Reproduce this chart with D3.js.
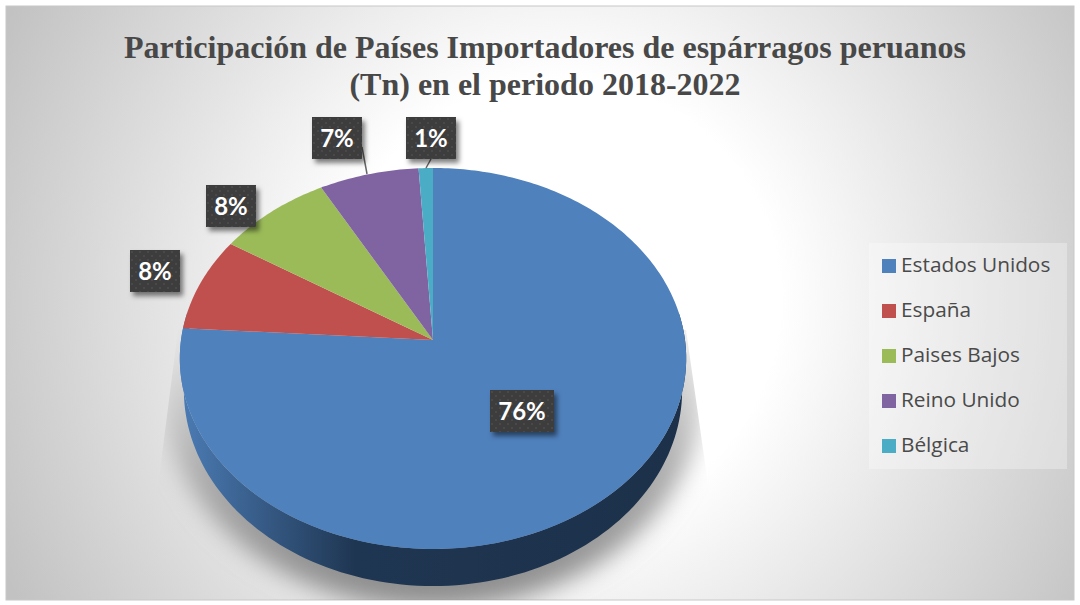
<!DOCTYPE html>
<html>
<head>
<meta charset="utf-8">
<script src="https://cdn.jsdelivr.net/npm/d3@7/dist/d3.min.js"></script>
<style>
html, body { margin: 0; padding: 0; background: #fff; }
svg { display: block; }
</style>
</head>
<body>
<svg id="chart" width="1080" height="605"></svg>
<script>
var titleLines = ["Participación de Países Importadores de espárragos peruanos", "(Tn) en el periodo 2018-2022"];
var categories = ["Estados Unidos", "España", "Paises Bajos", "Reino Unido", "Bélgica"];
var shares = [76, 8, 8, 7, 1];
var colors = ["#4f81bd", "#c0504d", "#9bbb59", "#8064a2", "#4bacc6"];

var svg = d3.select("#chart");
var defs = svg.append("defs");

var bg = defs.append("radialGradient").attr("id", "bg")
    .attr("gradientUnits", "userSpaceOnUse")
    .attr("cx", 560).attr("cy", 300).attr("r", 620);
bg.append("stop").attr("offset", "0.355").attr("stop-color", "#ffffff");
bg.append("stop").attr("offset", "1").attr("stop-color", "#c2c2c2");

var wall = defs.append("linearGradient").attr("id", "wall")
    .attr("gradientUnits", "userSpaceOnUse")
    .attr("x1", 185).attr("x2", 700).attr("y1", 0).attr("y2", 0);
wall.append("stop").attr("offset", "0").attr("stop-color", "#4a7ab2");
wall.append("stop").attr("offset", "0.33").attr("stop-color", "#1f3652");
wall.append("stop").attr("offset", "1").attr("stop-color", "#1c3049");

// floor shadow gets stronger further down
var floorFill = defs.append("linearGradient").attr("id", "floorFill")
    .attr("gradientUnits", "userSpaceOnUse")
    .attr("x1", 0).attr("x2", 0).attr("y1", 340).attr("y2", 590);
floorFill.append("stop").attr("offset", "0").attr("stop-color", "#e4e4e4");
floorFill.append("stop").attr("offset", "0.52").attr("stop-color", "#acacac");
floorFill.append("stop").attr("offset", "1").attr("stop-color", "#8c8c8c");

defs.append("filter").attr("id", "blur").attr("x", "-20%").attr("y", "-20%").attr("width", "140%").attr("height", "140%")
    .append("feGaussianBlur").attr("stdDeviation", 12);

// shadow has straight slanted sides and stops at the chart edge
defs.append("clipPath").attr("id", "floorClip").append("polygon")
    .attr("points", "178,330 686,330 706,470 720,600 146,600 160,470");

var labelShadow = defs.append("filter").attr("id", "labelShadow").attr("x", "-30%").attr("y", "-30%").attr("width", "170%").attr("height", "170%");
labelShadow.append("feDropShadow").attr("dx", 3).attr("dy", 4).attr("stdDeviation", 2.5)
    .attr("flood-color", "#000").attr("flood-opacity", 0.5);

var dots = defs.append("pattern").attr("id", "dots").attr("patternUnits", "userSpaceOnUse")
    .attr("width", 8).attr("height", 8);
dots.append("rect").attr("width", 8).attr("height", 8).attr("fill", "#3c3c3c");
dots.append("circle").attr("cx", 2).attr("cy", 2).attr("r", 0.8).attr("fill", "#565656");
dots.append("circle").attr("cx", 6).attr("cy", 6).attr("r", 0.8).attr("fill", "#565656");

svg.append("rect").attr("x", 6).attr("y", 6).attr("width", 1068).attr("height", 594)
    .attr("fill", "url(#bg)").attr("stroke", "#c8c8c8").attr("stroke-width", 1);

// pie seen in perspective: apex is not the middle of the ellipse
var apexX = 433, apexY = 340, radX = 252, radY = 188.7, tilt = 0.097;

function project(a, sx, sy, drop) {
    var d = 1 + tilt * Math.cos(a);
    return [apexX + sx * radX * Math.sin(a) / d, apexY + drop - sy * radY * Math.cos(a) / d];
}

var pieAngles = d3.pie().sort(null)(shares);
var line = d3.line();

function slicePath(d) {
    var n = Math.max(4, Math.ceil((d.endAngle - d.startAngle) * 60));
    var pts = d3.range(n + 1).map(function(i) {
        return project(d.startAngle + (d.endAngle - d.startAngle) * i / n, 1, 1, 0);
    });
    return line([[apexX, apexY]].concat(pts)) + "Z";
}

var full = d3.range(241).map(function(i) { return i / 240 * 2 * Math.PI; });

// floor shadow
svg.append("g").attr("clip-path", "url(#floorClip)").append("path")
    .attr("d", line(full.map(function(a) { return project(a, 1.06, 1.12, 34); })) + "Z")
    .attr("fill", "url(#floorFill)").attr("filter", "url(#blur)");

// side wall
var lowerArc = d3.range(121).map(function(i) {
    var a = Math.PI / 2 - 0.15 + (Math.PI + 0.3) * i / 120;
    return project(a, 0.984, 1.029, 31);
});
var upperArc = d3.range(121).map(function(i) {
    var a = Math.PI * 3 / 2 + 0.15 - (Math.PI + 0.3) * i / 120;
    return project(a, 1, 1, 0);
});
svg.append("path").attr("d", line(lowerArc.concat(upperArc)) + "Z").attr("fill", "url(#wall)");

svg.append("g").selectAll("path").data(pieAngles).enter().append("path")
    .attr("d", slicePath)
    .attr("fill", function(d, i) { return colors[i]; });

// leader lines
var leaders = [[362, 147, 367, 174], [431, 159, 426, 168]];
svg.append("g").selectAll("line").data(leaders).enter().append("line")
    .attr("x1", function(d) { return d[0]; }).attr("y1", function(d) { return d[1]; })
    .attr("x2", function(d) { return d[2]; }).attr("y2", function(d) { return d[3]; })
    .attr("stroke", "#666").attr("stroke-width", 1.5);

// data labels
var labelBoxes = [[490, 390, 64], [130, 250, 50], [206, 185, 50], [312, 117, 50], [406, 117, 50]];
var labels = svg.append("g").selectAll("g").data(shares).enter().append("g")
    .attr("transform", function(d, i) { return "translate(" + labelBoxes[i][0] + "," + labelBoxes[i][1] + ")"; });
labels.append("rect")
    .attr("width", function(d, i) { return labelBoxes[i][2]; }).attr("height", 42)
    .attr("fill", "url(#dots)").attr("filter", "url(#labelShadow)");
labels.append("text")
    .attr("x", function(d, i) { return labelBoxes[i][2] / 2; }).attr("y", 30)
    .attr("text-anchor", "middle")
    .style("font-family", "Lato, 'Open Sans', sans-serif").style("font-weight", 700).style("font-size", "24px")
    .attr("fill", "#fff")
    .text(function(d) { return d + "%"; });

// title
svg.append("g").selectAll("text").data(titleLines).enter().append("text")
    .attr("x", 545).attr("y", function(d, i) { return 58 + i * 37; })
    .attr("text-anchor", "middle")
    .style("font-family", "'Liberation Serif', serif").style("font-weight", 700).style("font-size", "32px")
    .attr("fill", "#484848")
    .text(function(d) { return d; });

// legend
svg.append("rect").attr("x", 869).attr("y", 243).attr("width", 198).attr("height", 226)
    .attr("fill", "#fff").attr("opacity", 0.3);
var legendY = d3.scalePoint().domain(categories).range([266, 446]);
var legend = svg.append("g").selectAll("g").data(categories).enter().append("g")
    .attr("transform", function(d) { return "translate(882," + legendY(d) + ")"; });
legend.append("rect").attr("y", -7).attr("width", 14).attr("height", 14)
    .attr("fill", function(d, i) { return colors[i]; });
legend.append("text").attr("x", 19).attr("y", 6)
    .style("font-family", "'Open Sans', 'Noto Sans', sans-serif").style("font-size", "20.8px")
    .attr("fill", "#4a4a4a")
    .text(function(d) { return d; });
</script>
</body>
</html>
